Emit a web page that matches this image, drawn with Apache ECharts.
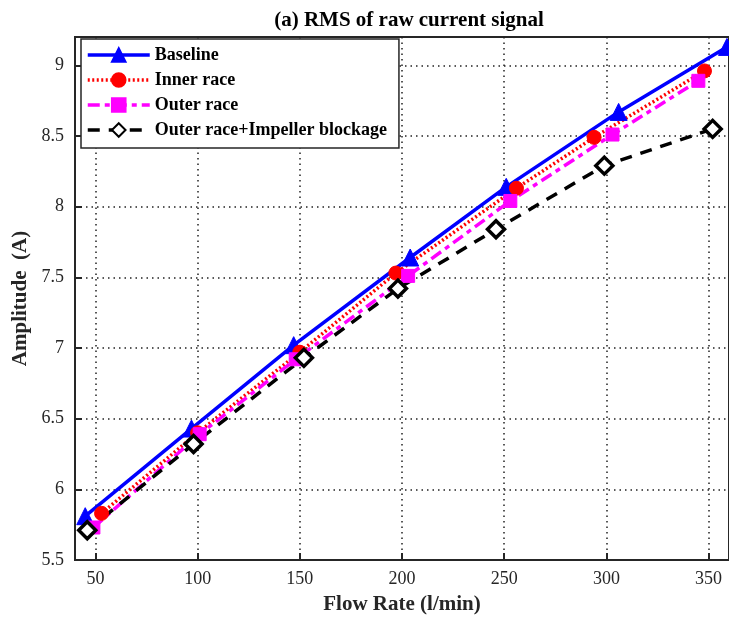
<!DOCTYPE html>
<html>
<head>
<meta charset="utf-8">
<script src="https://cdn.jsdelivr.net/npm/echarts@6/dist/echarts.min.js"></script>
<style>html,body{margin:0;padding:0;background:#fff}#c{width:729px;height:620px}</style>
</head>
<body>
<div id="c"></div>
<script>
const seriesNames = ['Baseline', 'Inner race', 'Outer race', 'Outer race+Impeller blockage'];
const baselineX = [45, 97, 147, 204, 251, 306, 359];
const baselineY = [5.81, 6.43, 7.02, 7.64, 8.14, 8.67, 9.13];
const innerX = [53, 100, 150, 197, 256, 294, 348];
const innerY = [5.83, 6.40, 6.97, 7.53, 8.13, 8.49, 8.96];
const outerX = [49, 101, 148, 203, 253, 303, 345];
const outerY = [5.73, 6.39, 6.92, 7.51, 8.04, 8.51, 8.89];
const blockX = [46, 98, 152, 198, 246, 299, 352];
const blockY = [5.71, 6.32, 6.93, 7.42, 7.84, 8.29, 8.55];
const xTicks = [50, 100, 150, 200, 250, 300, 350];
const yTicks = [5.5, 6, 6.5, 7, 7.5, 8, 8.5, 9];

const pair = (xs, ys) => xs.map((x, i) => [x, ys[i]]);
const FONT = '"Liberation Serif", "Times New Roman", serif';
const AX = '#262626';

const chart = echarts.init(document.getElementById('c'), null, {renderer: 'canvas'});
chart.setOption({
  animation: false,
  backgroundColor: '#fff',
  title: {
    text: '(a) RMS of raw current signal',
    left: 404, top: 5, textAlign: 'center',
    textStyle: {fontFamily: FONT, fontWeight: 'bold', fontSize: 21, color: '#000'}
  },
  grid: {left: 75, right: 0, top: 37, bottom: 58, show: true, borderColor: AX, borderWidth: 2, backgroundColor: 'transparent'},
  legend: {
    orient: 'vertical', left: 81, top: 39,
    data: seriesNames,
    itemWidth: 62, itemHeight: 17, itemGap: 7,
    padding: [7, 12, 9, 5],
    backgroundColor: '#fff', borderColor: AX, borderWidth: 1.5,
    lineStyle: {width: 3.5},
    textStyle: {fontFamily: FONT, fontWeight: 'bold', fontSize: 18, color: '#000'}
  },
  xAxis: {
    type: 'value', min: 40, max: 360,
    name: 'Flow Rate (l/min)', nameLocation: 'middle', nameGap: 34,
    nameTextStyle: {fontFamily: FONT, fontWeight: 'bold', fontSize: 21, color: AX},
    axisLine: {show: true, onZero: false, lineStyle: {color: AX, width: 2}},
    axisTick: {show: true, inside: true, length: 7, customValues: xTicks, lineStyle: {color: AX, width: 2}},
    axisLabel: {customValues: xTicks, margin: 10, fontFamily: FONT, fontSize: 18, color: AX},
    splitLine: {show: true, lineStyle: {type: [1.5, 4], color: '#222', width: 1.5}}
  },
  yAxis: {
    type: 'value', min: 5.5, max: 9.2,
    name: 'Amplitude  (A)', nameLocation: 'middle', nameGap: 41,
    nameTextStyle: {fontFamily: FONT, fontWeight: 'bold', fontSize: 21, color: AX},
    axisLine: {show: true, onZero: false, lineStyle: {color: AX, width: 2}},
    axisTick: {show: true, inside: true, length: 7, customValues: yTicks, lineStyle: {color: AX, width: 2}},
    axisLabel: {customValues: yTicks, margin: 11, fontFamily: FONT, fontSize: 18, color: AX},
    splitLine: {show: true, lineStyle: {type: [1.5, 4], color: '#222', width: 1.5}}
  },
  series: [
    {
      name: seriesNames[0], type: 'line', data: pair(baselineX, baselineY),
      symbol: 'triangle', symbolSize: 17,
      lineStyle: {color: '#0000ff', width: 3.5, type: 'solid'},
      itemStyle: {color: '#0000ff', borderColor: '#0000ff', borderWidth: 1}
    },
    {
      name: seriesNames[1], type: 'line', data: pair(innerX, innerY),
      symbol: 'circle', symbolSize: 14,
      lineStyle: {color: '#ff0000', width: 3.5, type: [2, 2.5]},
      itemStyle: {color: '#ff0000', borderColor: '#ff0000', borderWidth: 1}
    },
    {
      name: seriesNames[2], type: 'line', data: pair(outerX, outerY),
      symbol: 'rect', symbolSize: 13,
      lineStyle: {color: '#ff00ff', width: 3.5, type: [12, 5, 5, 5]},
      itemStyle: {color: '#ff00ff', borderColor: '#ff00ff', borderWidth: 1}
    },
    {
      name: seriesNames[3], type: 'line', data: pair(blockX, blockY),
      symbol: 'diamond', symbolSize: 17,
      lineStyle: {color: '#000', width: 3.5, type: [12, 9]},
      itemStyle: {color: '#fff', borderColor: '#000', borderWidth: 3.5}
    }
  ]
});
</script>
</body>
</html>
